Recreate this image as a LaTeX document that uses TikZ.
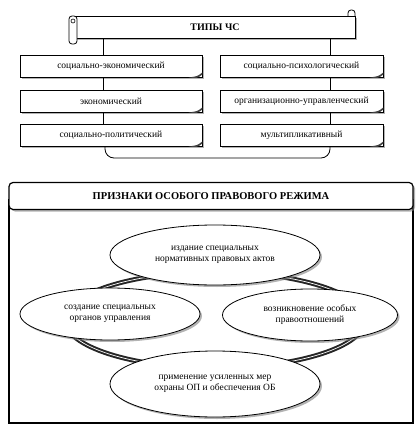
\documentclass[tikz,border=0pt]{standalone}
\usepackage{fontspec}
\setmainfont{Liberation Serif}
\usetikzlibrary{shapes.geometric,shadows}

\tikzset{
 typebox/.style={draw, fill=white, line width=.8pt, minimum width=182pt, minimum height=22pt,
   drop shadow={shadow xshift=2pt,shadow yshift=-2pt,opacity=.6},
   font=\fontsize{9.5}{11}\selectfont},
 oval/.style={shape=ellipse, draw, fill=white, line width=.8pt, align=center, inner sep=0pt,
   drop shadow={shadow xshift=2pt,shadow yshift=-2pt,opacity=.6},
   font=\fontsize{9.5}{11}\selectfont},
 ringline/.style={draw=black!85, line width=2pt, double=white, double distance=.7pt}
}

\begin{document}
\begin{tikzpicture}[x=1pt,y=-1pt]
 \useasboundingbox (0,0) rectangle (419,430);
 % scroll with the heading
 \draw[fill=white, line width=.8pt, rounded corners=3pt] (348,10) rectangle (355,19);
 \node[typebox, minimum width=280pt, font=\fontsize{10}{12}\selectfont\bfseries] (T) at (215,27) {ТИПЫ ЧС};
 \draw[fill=white, line width=.8pt, rounded corners=3pt] (69,16) rectangle (77,44);
 \draw[line width=.6pt] (73,21) circle (2pt);
 % left column
 \node[typebox] (A1) at (111,66)  {социально-экономический};
 \node[typebox] (A2) at (111,101) {экономический};
 \node[typebox] (A3) at (111,135) {социально-политический};
 % right column
 \node[typebox, minimum width=163pt] (B1) at (301.5,66)  {социально-психологический};
 \node[typebox, minimum width=163pt] (B2) at (301.5,101) {организационно-управленческий};
 \node[typebox, minimum width=163pt] (B3) at (301.5,135) {мультипликативный};
 \foreach \n in {A1,A2,A3,B1,B2,B3}
  \fill[black!75] ([xshift=-14pt]\n.south east) .. controls ([xshift=-5pt,yshift=1pt]\n.south east) .. ([yshift=5pt]\n.south east)
   -- ([yshift=3pt]\n.south east) .. controls ([xshift=-5pt,yshift=-1pt]\n.south east) .. ([xshift=-14pt]\n.south east);
 \coordinate (K) at (215,158);
 \draw[line width=.8pt] ([xshift=-8pt]A1.north |- T.south) -- ([xshift=-8pt]A1.north);
 \draw[line width=.8pt] ([xshift=-8pt]A1.south) -- ([xshift=-8pt]A2.north);
 \draw[line width=.8pt] ([xshift=-8pt]A2.south) -- ([xshift=-8pt]A3.north);
 \draw[line width=.8pt] ([xshift=28.5pt]B1.north |- T.south) -- ([xshift=28.5pt]B1.north);
 \draw[line width=.8pt] ([xshift=28.5pt]B1.south) -- ([xshift=28.5pt]B2.north);
 \draw[line width=.8pt] ([xshift=28.5pt]B2.south) -- ([xshift=28.5pt]B3.north);
 \draw[line width=.8pt, rounded corners=9pt] ([xshift=-6pt]A3.south) |- (K) -| ([xshift=28.5pt]B3.south);

 % features of the special legal regime
 \draw[line width=1.2pt] (9,200) rectangle (413,423);
 \node[draw, fill=white, line width=1.2pt, rounded corners=4pt, minimum width=404pt, minimum height=27pt,
   drop shadow={shadow xshift=2pt,shadow yshift=-2pt,opacity=.6},
   font=\fontsize{10.5}{12}\selectfont\bfseries] (H) at (211,196) {ПРИЗНАКИ ОСОБОГО ПРАВОВОГО РЕЖИМА};
 \coordinate (R) at (215,320);
 \draw[ringline] (R) ellipse [x radius=150, y radius=48];
 \node[oval, minimum width=210pt, minimum height=60pt] (E1) at (215,255) {издание специальных\\нормативных правовых актов};
 \node[oval, minimum width=180pt, minimum height=52pt] (E2) at (110,314) {создание специальных\\органов управления};
 \node[oval, minimum width=175pt, minimum height=52pt] (E3) at (310,315) {возникновение особых\\правоотношений};
 \node[oval, minimum width=210pt, minimum height=66pt] (E4) at (215,384) {применение усиленных мер\\охраны ОП и обеспечения ОБ};
\end{tikzpicture}
\end{document}
